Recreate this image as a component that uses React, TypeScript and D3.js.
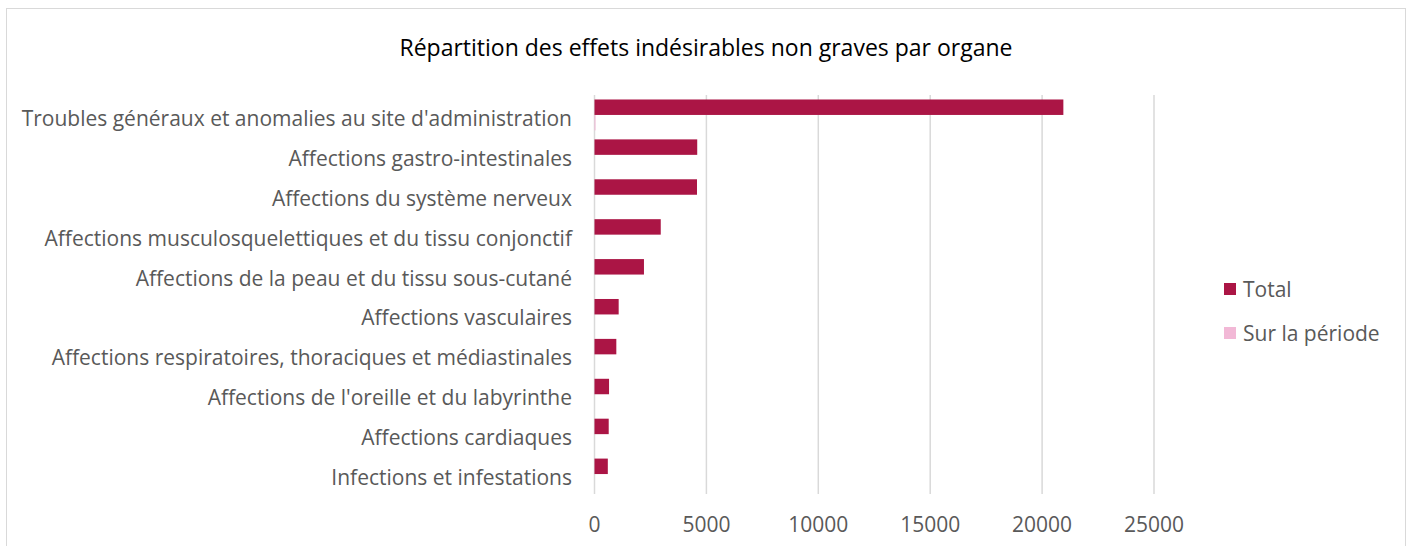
import React from "react";
import * as d3 from "d3";

const categories = [
  "Troubles généraux et anomalies au site d'administration",
  "Affections gastro-intestinales",
  "Affections du système nerveux",
  "Affections musculosquelettiques et du tissu conjonctif",
  "Affections de la peau et du tissu sous-cutané",
  "Affections vasculaires",
  "Affections respiratoires, thoraciques et médiastinales",
  "Affections de l'oreille et du labyrinthe",
  "Affections cardiaques",
  "Infections et infestations",
];
const seriesNames = ["Total", "Sur la période"];
const totalValues = [20950, 4590, 4580, 2960, 2210, 1080, 975, 650, 635, 595];
const periodValues = [25, 0, 0, 0, 0, 0, 0, 0, 0, 0];
const xTicks = [0, 5000, 10000, 15000, 20000, 25000];
const title = "Répartition des effets indésirables non graves par organe";

const colors = ["#AB1545", "#F2B8D6"];
const FONT = "'Open Sans', sans-serif";

export default function App() {
  const W = 1410, H = 546;
  const x = d3.scaleLinear().domain([0, 25000]).range([594.5, 1154]);
  const y = d3.scaleBand<string>().domain(categories).range([95, 494]).padding(0);
  const bw = y.bandwidth();
  const gap = (bw * 0.58) / 2.58;
  const sub = d3.scaleBand<string>().domain(seriesNames).range([gap / 2, bw - gap / 2]).padding(0);
  const seriesValues = [totalValues, periodValues];

  return (
    <svg width={W} height={H} style={{ position: "absolute", left: 0, top: 0, background: "#fff" }}>
      <rect x={6.5} y={8.5} width={1399} height={560} fill="#fff" stroke="#d9d9d9" strokeWidth={1} />
      <text x={706} y={47} textAnchor="middle" dominantBaseline="central" fontFamily={FONT} fontSize={23} fill="#000">
        {title}
      </text>
      {xTicks.map((t) => (
        <g key={t}>
          <line x1={x(t)} x2={x(t)} y1={95} y2={494} stroke="#d9d9d9" strokeWidth={1.5} />
          <text x={x(t)} y={524} textAnchor="middle" dominantBaseline="central" fontFamily={FONT} fontSize={21} fill="#595959">
            {t}
          </text>
        </g>
      ))}
      {seriesValues.map((vals, si) =>
        vals.map((v, i) => {
          const w = x(v) - x(0);
          if (w <= 0) return null;
          return (
            <rect
              key={si + "-" + i}
              x={x(0)}
              y={(y(categories[i]) as number) + (sub(seriesNames[si]) as number)}
              width={Math.max(w, 1)}
              height={sub.bandwidth()}
              fill={colors[si]}
            />
          );
        })
      )}
      {categories.map((c) => (
        <text
          key={c}
          x={572}
          y={(y(c) as number) + bw / 2 + 3}
          textAnchor="end"
          dominantBaseline="central"
          fontFamily={FONT}
          fontSize={21}
          fill="#595959"
        >
          {c}
        </text>
      ))}
      {seriesNames.map((s, i) => (
        <g key={s} transform={`translate(1224, ${283 + i * 44})`}>
          <rect x={0} y={0} width={12} height={12} fill={colors[i]} />
          <text x={19} y={6} dominantBaseline="central" fontFamily={FONT} fontSize={21} fill="#595959">
            {s}
          </text>
        </g>
      ))}
    </svg>
  );
}
